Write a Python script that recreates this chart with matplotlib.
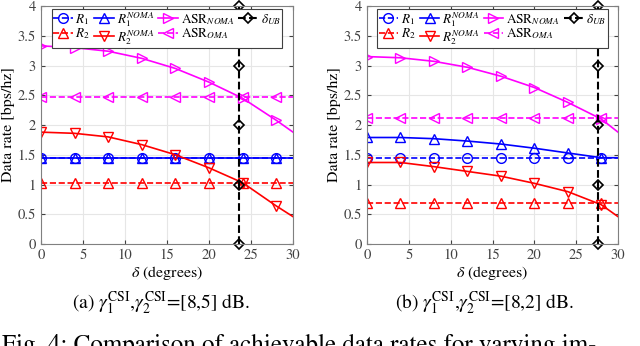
import matplotlib
matplotlib.use('Agg')
import matplotlib.pyplot as plt

plt.rcParams['font.family'] = ['STIXGeneral', 'DejaVu Serif']
plt.rcParams['mathtext.fontset'] = 'stix'

# markers every 4 degrees, line ends at 30
x_mk = [0, 4, 8, 12, 16, 20, 24, 28]

# (a) [8,5] dB
a_ub = 23.6
a_r1 = 1.44
a_r2 = 1.02
a_r1_noma = [1.44, 1.44, 1.44, 1.44, 1.44, 1.44, 1.44, 1.44]
a_r2_noma = [1.88, 1.86, 1.80, 1.67, 1.50, 1.28, 1.03, 0.64]
a_asr_noma = [3.33, 3.30, 3.24, 3.12, 2.95, 2.72, 2.45, 2.08]
a_asr_oma = 2.47
a_end = {'r1n': 1.44, 'r2n': 0.46, 'asrn': 1.88}

# (b) [8,2] dB
b_ub = 27.6
b_r1 = 1.44
b_r2 = 0.69
b_r1_noma = [1.79, 1.79, 1.77, 1.73, 1.68, 1.61, 1.53, 1.45]
b_r2_noma = [1.37, 1.37, 1.30, 1.22, 1.14, 1.02, 0.88, 0.66]
b_asr_noma = [3.15, 3.13, 3.07, 2.97, 2.82, 2.63, 2.38, 2.10]
b_asr_oma = 2.12
b_end = {'r1n': 1.45, 'r2n': 0.46, 'asrn': 1.88}

ub_y = [0, 1, 2, 3, 4]

fig = plt.figure(figsize=(6.4, 3.46), dpi=100)
ax1 = fig.add_axes([41/640, 102/346, 252/640, 238/346])
ax2 = fig.add_axes([367/640, 102/346, 251/640, 238/346])

mk = dict(markersize=7, markerfacecolor='none', markeredgewidth=1.0)


def panel(ax, r1, r2, r1n, r2n, asrn, asro, end, ub, xmax):
    xs = x_mk + [30]
    me = list(range(8))
    ax.plot(xs, [r1] * len(xs), '--', color='b', marker='o', markevery=me, lw=1.2, label='$R_1$', **mk)
    ax.plot(xs, [r2] * len(xs), '--', color='r', marker='^', markevery=me, lw=1.2, label='$R_2$', **mk)
    ax.plot(xs, r1n + [end['r1n']], '-', color='b', marker='^', markevery=me, lw=1.2, label='$R_1^{NOMA}$', **mk)
    ax.plot(xs, r2n + [end['r2n']], '-', color='r', marker='v', markevery=me, lw=1.2, label='$R_2^{NOMA}$', **mk)
    ax.plot(xs, asrn + [end['asrn']], '-', color='magenta', marker='>', markevery=me, lw=1.2, label='ASR$_{NOMA}$', **mk)
    ax.plot(xs, [asro] * len(xs), '--', color='magenta', marker='<', markevery=me, lw=1.2, label='ASR$_{OMA}$', **mk)
    ax.plot([ub] * len(ub_y), ub_y, '--', color='k', marker='D', lw=1.5, markersize=5,
            markerfacecolor='none', markeredgewidth=1.2, clip_on=False, label=r'$\delta_{UB}$')
    ax.set_xlim(0, xmax)
    ax.set_ylim(0, 4)
    ax.set_xticks(range(0, 31, 5))
    ax.set_yticks([0, 0.5, 1, 1.5, 2, 2.5, 3, 3.5, 4])
    ax.set_yticklabels(['0', '0.5', '1', '1.5', '2', '2.5', '3', '3.5', '4'])
    ax.grid(True, color='#e6e6e6', lw=0.8)
    ax.set_axisbelow(True)
    ax.tick_params(direction='in', top=True, right=True, labelsize=10.5, colors='#404040', length=3)
    for s in ax.spines.values():
        s.set_color('#808080')
    ax.set_xlabel(r'$\delta$ (degrees)', fontsize=11.5, labelpad=1)
    ax.set_ylabel('Data rate [bps/hz]', fontsize=11.5, labelpad=2)
    leg = ax.legend(ncol=4, loc='upper center', fontsize=9.5, handlelength=1.5, handletextpad=0.2,
                    columnspacing=0.3, borderpad=0.1, labelspacing=-0.05, borderaxespad=0.2,
                    fancybox=False, edgecolor='#404040', framealpha=1, bbox_to_anchor=(0.5, 1.0))
    leg.get_frame().set_linewidth(0.8)


panel(ax1, a_r1, a_r2, a_r1_noma, a_r2_noma, a_asr_noma, a_asr_oma, a_end, a_ub, 30)
panel(ax2, b_r1, b_r2, b_r1_noma, b_r2_noma, b_asr_noma, b_asr_oma, b_end, b_ub, 29.9)

fig.text(161/640, 1 - 303/346, r'(a) $\gamma_1^{\rm CSI}$,$\gamma_2^{\rm CSI}$=[8,5] dB.', ha='center', va='center', fontsize=14)
fig.text(485/640, 1 - 303/346, r'(b) $\gamma_1^{\rm CSI}$,$\gamma_2^{\rm CSI}$=[8,2] dB.', ha='center', va='center', fontsize=14)
fig.text(2/640, 1 - 352/346, 'Fig. 4: Comparison of achievable data rates for varying im-', ha='left', va='baseline', fontsize=18)

fig.savefig('out.png', dpi=100)
